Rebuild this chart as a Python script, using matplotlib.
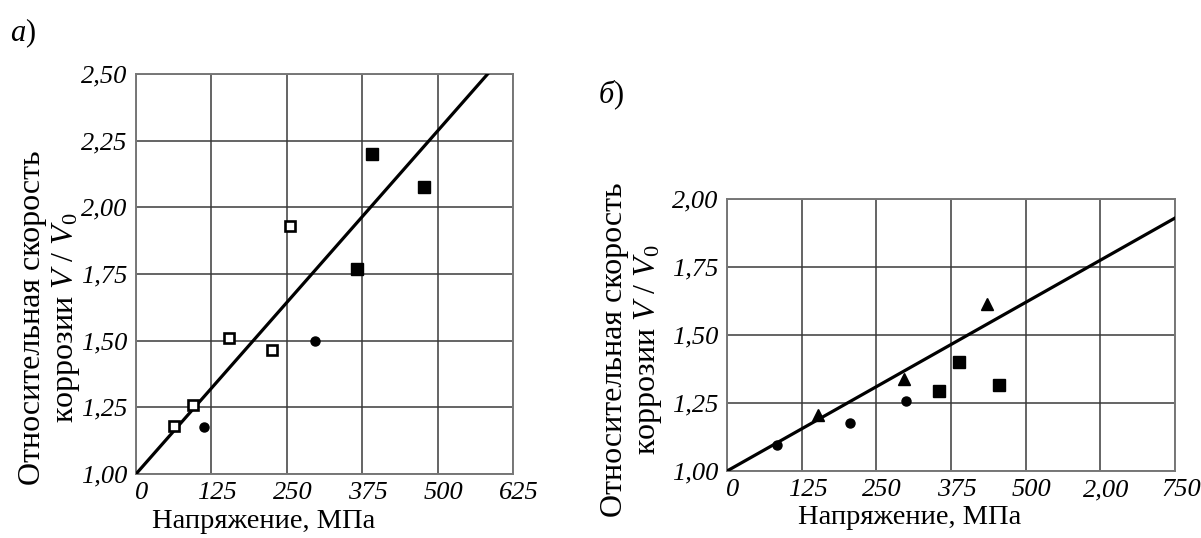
import matplotlib
matplotlib.use("Agg")
import matplotlib.pyplot as plt
from matplotlib.transforms import ScaledTranslation

plt.rcParams['font.family'] = ['Liberation Serif', 'DejaVu Serif']
plt.rcParams['mathtext.fontset'] = 'custom'
plt.rcParams['mathtext.rm'] = 'Liberation Serif'
plt.rcParams['mathtext.it'] = 'Liberation Serif:italic'

# ---------- Panel a data ----------
a_open_sq_x = [63, 95, 154, 226, 256]
a_open_sq_y = [1.18, 1.26, 1.51, 1.465, 1.93]
a_circle_x = [113, 296]
a_circle_y = [1.175, 1.50]
a_filled_sq_x = [366, 392, 477]
a_filled_sq_y = [1.77, 2.20, 2.075]
a_fit_x = [0, 583]
a_fit_y = [1.00, 2.50]
a_xticks = [0, 125, 250, 375, 500, 625]
a_xticklabels = ["0", "125", "250", "375", "500", "625"]
a_yticks = [1.00, 1.25, 1.50, 1.75, 2.00, 2.25, 2.50]
a_yticklabels = ["1,00", "1,25", "1,50", "1,75", "2,00", "2,25", "2,50"]

# ---------- Panel b data ----------
b_circle_x = [83, 206, 299]
b_circle_y = [1.095, 1.177, 1.257]
b_tri_x = [153, 297, 435]
b_tri_y = [1.205, 1.34, 1.613]
b_filled_sq_x = [355, 388, 456]
b_filled_sq_y = [1.295, 1.40, 1.318]
b_fit_x = [0, 750]
b_fit_y = [1.00, 1.93]
b_xticks = [0, 125, 250, 375, 500, 625, 750]
b_xticklabels = ["0", "125", "250", "375", "500", "2,00", "750"]
b_yticks = [1.00, 1.25, 1.50, 1.75, 2.00]
b_yticklabels = ["1,00", "1,25", "1,50", "1,75", "2,00"]

W, H = 1201, 538
fig = plt.figure(figsize=(W / 100, H / 100), dpi=100)

grid_color = '#3a3a3a'
tick_fs = 19
xlabel_fs = 20.5
ylabel_fs = 23


def style_axes(ax, xticks, xlabels, yticks, ylabels, xlim, ylim):
    ax.set_xlim(*xlim)
    ax.set_ylim(*ylim)
    ax.set_xticks(xticks)
    ax.set_xticklabels(xlabels, fontstyle='italic', fontsize=tick_fs)
    ax.set_yticks(yticks)
    ax.set_yticklabels(ylabels, fontstyle='italic', fontsize=tick_fs)
    ax.tick_params(length=0, pad=6)
    ax.grid(True, color=grid_color, linewidth=1.1)
    ax.set_axisbelow(True)
    for s in ax.spines.values():
        s.set_color('#777777')
        s.set_linewidth(1.4)
    for lab in ax.get_xticklabels():
        lab.set_transform(lab.get_transform() + ScaledTranslation(6 / 100, 0, fig.dpi_scale_trans))


# Panel a
axa = fig.add_axes([136 / W, 1 - 474 / H, (513 - 136) / W, (474 - 74) / H])
style_axes(axa, a_xticks, a_xticklabels, a_yticks, a_yticklabels, (0, 625), (1.0, 2.5))
axa.plot(a_fit_x, a_fit_y, color='black', linewidth=2.3, zorder=3)
axa.plot(a_open_sq_x, a_open_sq_y, 's', ms=7, mfc='white', mec='black', mew=1.9, zorder=4)
axa.plot(a_circle_x, a_circle_y, 'o', ms=6.5, color='black', zorder=4)
axa.plot(a_filled_sq_x, a_filled_sq_y, 's', ms=9, color='black', zorder=4)

# Panel b
axb = fig.add_axes([727 / W, 1 - 471 / H, (1175 - 727) / W, (471 - 199) / H])
style_axes(axb, b_xticks, b_xticklabels, b_yticks, b_yticklabels, (0, 750), (1.0, 2.0))
axb.plot(b_fit_x, b_fit_y, color='black', linewidth=2.3, zorder=3)
axb.plot(b_circle_x, b_circle_y, 'o', ms=6.5, color='black', zorder=4)
axb.plot(b_tri_x, b_tri_y, '^', ms=9, color='black', zorder=4)
axb.plot(b_filled_sq_x, b_filled_sq_y, 's', ms=8.5, color='black', zorder=4)

# Axis labels
ylab = "Относительная скорость\nкоррозии $V$ / $V_0$"
fig.text(50 / W, 1 - 318 / H, ylab, rotation=90, ha='center', va='center',
         fontsize=ylabel_fs, linespacing=1.1)
fig.text(632 / W, 1 - 350 / H, ylab, rotation=90, ha='center', va='center',
         fontsize=ylabel_fs, linespacing=1.1)
fig.text(264 / W, 1 - 521 / H, "Напряжение, МПа", ha='center', va='center', fontsize=xlabel_fs)
fig.text(910 / W, 1 - 518 / H, "Напряжение, МПа", ha='center', va='center', fontsize=xlabel_fs)

# Panel letters
fig.text(10 / W, 1 - 33 / H, "$a$)", ha='left', va='center', fontsize=22)
fig.text(598 / W, 1 - 95 / H, "$б$)", ha='left', va='center', fontsize=22)

fig.savefig("out.png", dpi=100)
